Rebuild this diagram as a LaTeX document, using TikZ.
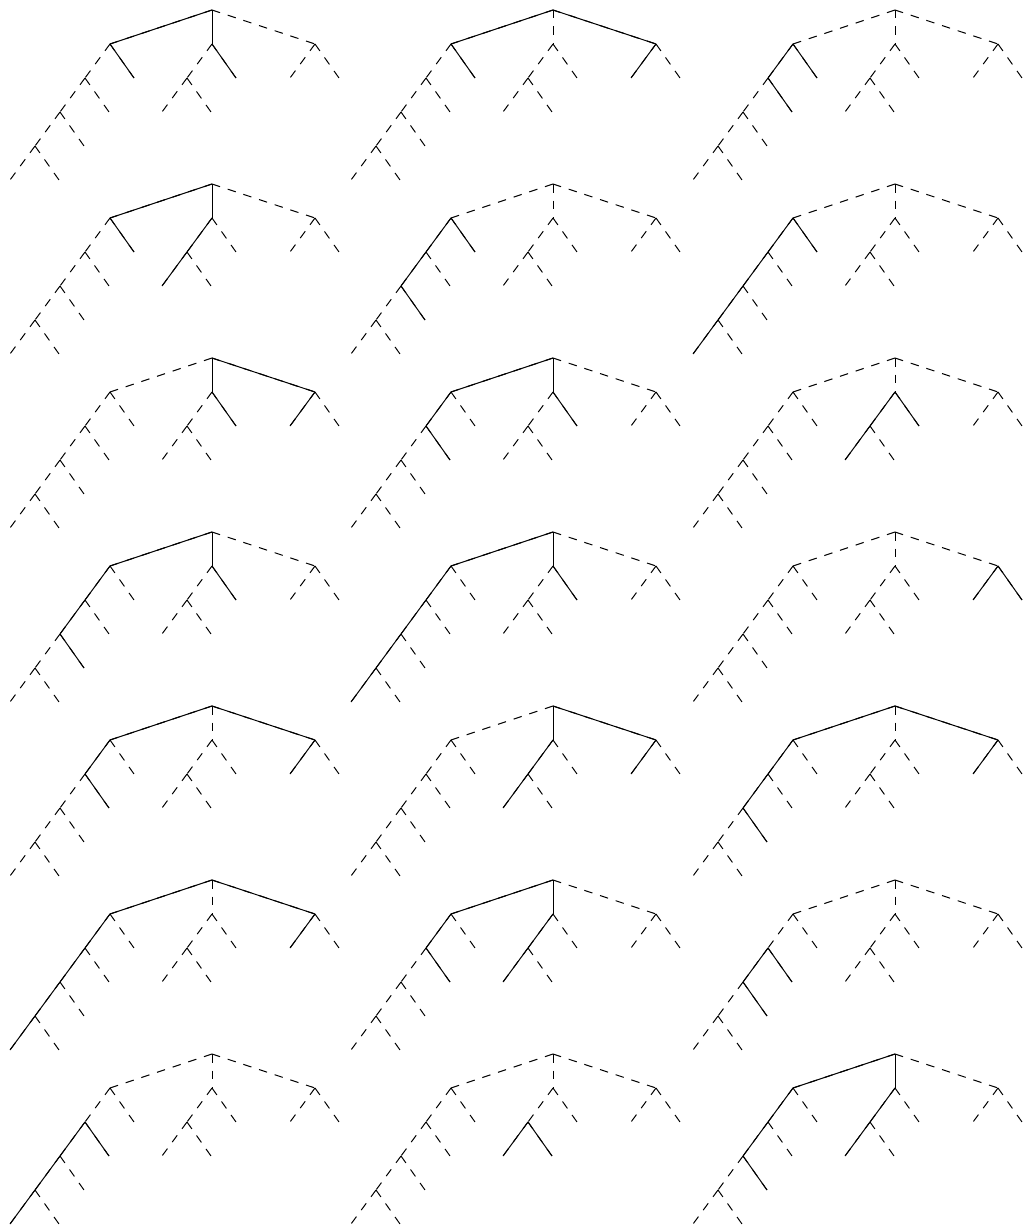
\documentclass[tikz,border=0pt]{standalone}
\usetikzlibrary{calc}

\tikzset{
  hidden/.style={line width=1pt, dash pattern=on 8.5pt off 8pt},
  kept/.style={line width=1pt},
}

% Squelette d'un arbre : nom, x et y de la racine
\newcommand{\treeskel}[3]{%
  \begin{scope}[shift={(#2,#3)}]
    \coordinate (#1-r) at (0,0);
    \coordinate (#1-l) at (-102,34);
    \coordinate (#1-m) at (0,34);
    \coordinate (#1-rt) at (103,34);
  \end{scope}
  % Branche gauche
  \path (#1-l) ++(-25,34) coordinate (#1-l1) ++(-25,34) coordinate (#1-l2)
        ++(-25,34) coordinate (#1-l3) ++(-25,34) coordinate (#1-l4);
  \path (#1-l) ++(24,34) coordinate (#1-la);
  \path (#1-l1) ++(24,34) coordinate (#1-lb);
  \path (#1-l2) ++(24,34) coordinate (#1-lc);
  \path (#1-l3) ++(24,34) coordinate (#1-ld);
  % Branche du milieu
  \path (#1-m) ++(-25,34) coordinate (#1-m1) ++(-25,34) coordinate (#1-m2);
  \path (#1-m) ++(24,34) coordinate (#1-ma);
  \path (#1-m1) ++(24,34) coordinate (#1-mb);
  % Branche droite
  \path (#1-rt) ++(-25,34) coordinate (#1-r1);
  \path (#1-rt) ++(24,34) coordinate (#1-ra);
  % Toutes les aretes en tirets
  \foreach \a/\b in {r/l,r/m,r/rt,l/l1,l/la,l1/l2,l1/lb,l2/l3,l2/lc,l3/l4,l3/ld,
                     m/m1,m/ma,m1/m2,m1/mb,rt/r1,rt/ra}
    \draw[hidden] (#1-\a) -- (#1-\b);
}
% Aretes pleines d'un arbre
\newcommand{\keptedges}[2]{%
  \foreach \a/\b in {#2} \draw[kept] (#1-\a) -- (#1-\b);
}

\begin{document}
\begin{tikzpicture}[x=1pt, y=-1pt]
  \useasboundingbox (0,0) rectangle (1028,1228);
  % Ligne 1
  \treeskel{t11}{212}{10}  \keptedges{t11}{r/l,r/m,l/la,m/ma}
  \treeskel{t12}{553}{10}  \keptedges{t12}{r/l,r/rt,l/la,rt/r1}
  \treeskel{t13}{895}{10}  \keptedges{t13}{l/l1,l/la,l1/lb}
  % Ligne 2
  \treeskel{t21}{212}{184} \keptedges{t21}{r/l,r/m,l/la,m/m1,m1/m2}
  \treeskel{t22}{553}{184} \keptedges{t22}{l/l1,l/la,l1/l2,l2/lc}
  \treeskel{t23}{895}{184} \keptedges{t23}{l/l1,l/la,l1/l2,l2/l3,l3/l4}
  % Ligne 3
  \treeskel{t31}{212}{358} \keptedges{t31}{r/m,r/rt,m/ma,rt/r1}
  \treeskel{t32}{553}{358} \keptedges{t32}{r/l,r/m,l/l1,l1/lb,m/ma}
  \treeskel{t33}{895}{358} \keptedges{t33}{m/m1,m/ma,m1/m2}
  % Ligne 4
  \treeskel{t41}{212}{532} \keptedges{t41}{r/l,r/m,l/l1,l1/l2,l2/lc,m/ma}
  \treeskel{t42}{553}{532} \keptedges{t42}{r/l,r/m,l/l1,l1/l2,l2/l3,l3/l4,m/ma}
  \treeskel{t43}{895}{532} \keptedges{t43}{rt/r1,rt/ra}
  % Ligne 5
  \treeskel{t51}{212}{706} \keptedges{t51}{r/l,r/rt,l/l1,l1/lb,rt/r1}
  \treeskel{t52}{553}{706} \keptedges{t52}{r/m,r/rt,m/m1,m1/m2,rt/r1}
  \treeskel{t53}{895}{706} \keptedges{t53}{r/l,r/rt,l/l1,l1/l2,l2/lc,rt/r1}
  % Ligne 6
  \treeskel{t61}{212}{880} \keptedges{t61}{r/l,r/rt,l/l1,l1/l2,l2/l3,l3/l4,rt/r1}
  \treeskel{t62}{553}{880} \keptedges{t62}{r/l,r/m,l/l1,l1/lb,m/m1,m1/m2}
  \treeskel{t63}{895}{880} \keptedges{t63}{l1/l2,l1/lb,l2/lc}
  % Ligne 7
  \treeskel{t71}{212}{1054} \keptedges{t71}{l1/l2,l1/lb,l2/l3,l3/l4}
  \treeskel{t72}{553}{1054} \keptedges{t72}{m1/m2,m1/mb}
  \treeskel{t73}{895}{1054} \keptedges{t73}{r/l,r/m,l/l1,l1/l2,l2/lc,m/m1,m1/m2}
\end{tikzpicture}
\end{document}
